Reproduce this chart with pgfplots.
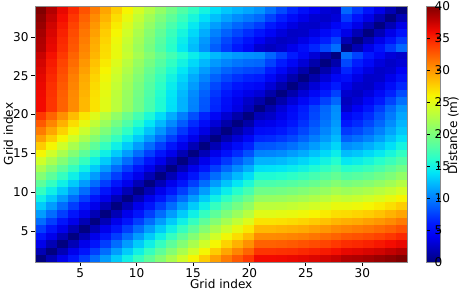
\documentclass[border=0pt]{standalone}
\usepackage{fontspec}
\setmainfont{DejaVu Sans}
\usepackage{pgfplots}
\pgfplotsset{compat=1.18}
\pgfplotsset{every axis/.append style={font=\fontsize{8.7}{10}\selectfont},
  /pgf/number format/assume math mode=true}
\begin{document}
\begin{tikzpicture}
\useasboundingbox (0,0) rectangle (331.2pt,209.52pt);
\begin{axis}[
 at={(25.2pt,20.9pt)}, anchor=south west,
 scale only axis, width=268.2pt, height=184.3pt,
 xmin=0.5,xmax=34.5,ymin=0.5,ymax=34.5, enlargelimits=false,
 axis on top,
 xtick={4.6212,9.7727,14.9242,20.0758,25.2273,30.3788}, xticklabels={5,10,15,20,25,30},
 ytick={4.6212,9.7727,14.9242,20.0758,25.2273,30.3788}, yticklabels={5,10,15,20,25,30},
 tick align=outside, major tick length=3pt,
 xtick pos=left, ytick pos=left,
 tick style={black, line width=0.6pt},
 axis line style={black!45, line width=0.6pt},
 xticklabel style={inner sep=0pt, yshift=-1.5pt},
 yticklabel style={inner sep=0pt, xshift=-1.5pt},
 xlabel={Grid index}, ylabel={Grid index},
 every axis x label/.style={at={(axis description cs:0.5,0)}, anchor=north, inner sep=0pt, yshift=-12.2pt},
 every axis y label/.style={at={(axis description cs:-0.058,0.5)}, rotate=90, anchor=south, inner sep=0pt},
 colormap={mjet}{rgb(0cm)=(0,0,0.5) rgb(1cm)=(0,0,0.727) rgb(2cm)=(0,0,0.955) rgb(3cm)=(0,0.1,1) rgb(4cm)=(0,0.3,1) rgb(5cm)=(0,0.5,1) rgb(6cm)=(0,0.7,1) rgb(7cm)=(0,0.9,0.968) rgb(8cm)=(0.145,1,0.806) rgb(9cm)=(0.323,1,0.645) rgb(10cm)=(0.484,1,0.484) rgb(11cm)=(0.645,1,0.323) rgb(12cm)=(0.806,1,0.161) rgb(13cm)=(0.968,0.963,0) rgb(14cm)=(1,0.778,0) rgb(15cm)=(1,0.593,0) rgb(16cm)=(1,0.407,0) rgb(17cm)=(1,0.222,0) rgb(18cm)=(0.955,0.037,0) rgb(19cm)=(0.727,0,0) rgb(20cm)=(0.5,0,0)},
 point meta min=0, point meta max=40,
 colorbar,
 colorbar style={at={(parent axis.north east)}, anchor=north west, xshift=5.4pt,
   width=9.6pt, ytick={0,5,...,40}, tick align=inside, major tick length=2pt,
   tick style={black, line width=0.6pt}, axis line style={black!45, line width=0.6pt},
   yticklabel style={inner sep=0pt, anchor=west, xshift=-4.2pt}},
]
\addplot[matrix plot*, mesh/cols=34, point meta=explicit] table[x index=0, y index=1, meta index=2, row sep=\\] {
x y c\\
1 1 0\\ 2 1 1.85\\ 3 1 3.7\\ 4 1 5.55\\ 5 1 7.4\\ 6 1 9.25\\ 7 1 11.1\\ 8 1 12.95\\ 9 1 14.8\\ 10 1 16.65\\ 11 1 18.5\\ 12 1 20.35\\ 13 1 22.2\\ 14 1 24.05\\ 15 1 25.9\\ 16 1 27.75\\ 17 1 29.6\\ 18 1 31.2\\ 19 1 32.6\\ 20 1 34\\ 21 1 36\\ 22 1 36\\ 23 1 36.1\\ 24 1 36.3\\ 25 1 36.5\\ 26 1 36.8\\ 27 1 37.1\\ 28 1 37.5\\ 29 1 38.2\\ 30 1 38.4\\ 31 1 38.7\\ 32 1 39.1\\ 33 1 39.5\\ 34 1 40\\
1 2 1.85\\ 2 2 0\\ 3 2 1.85\\ 4 2 3.7\\ 5 2 5.55\\ 6 2 7.4\\ 7 2 9.25\\ 8 2 11.1\\ 9 2 12.95\\ 10 2 14.8\\ 11 2 16.65\\ 12 2 18.5\\ 13 2 20.35\\ 14 2 22.2\\ 15 2 24.05\\ 16 2 25.9\\ 17 2 27.75\\ 18 2 29.35\\ 19 2 30.75\\ 20 2 32.15\\ 21 2 34.2\\ 22 2 34.2\\ 23 2 34.3\\ 24 2 34.4\\ 25 2 34.7\\ 26 2 35\\ 27 2 35.3\\ 28 2 35.7\\ 29 2 36.4\\ 30 2 36.6\\ 31 2 36.9\\ 32 2 37.2\\ 33 2 37.7\\ 34 2 38.2\\
1 3 3.7\\ 2 3 1.85\\ 3 3 0\\ 4 3 1.85\\ 5 3 3.7\\ 6 3 5.55\\ 7 3 7.4\\ 8 3 9.25\\ 9 3 11.1\\ 10 3 12.95\\ 11 3 14.8\\ 12 3 16.65\\ 13 3 18.5\\ 14 3 20.35\\ 15 3 22.2\\ 16 3 24.05\\ 17 3 25.9\\ 18 3 27.5\\ 19 3 28.9\\ 20 3 30.3\\ 21 3 32.3\\ 22 3 32.3\\ 23 3 32.4\\ 24 3 32.6\\ 25 3 32.9\\ 26 3 33.2\\ 27 3 33.5\\ 28 3 34\\ 29 3 34.5\\ 30 3 34.7\\ 31 3 35\\ 32 3 35.4\\ 33 3 35.9\\ 34 3 36.4\\
1 4 5.55\\ 2 4 3.7\\ 3 4 1.85\\ 4 4 0\\ 5 4 1.85\\ 6 4 3.7\\ 7 4 5.55\\ 8 4 7.4\\ 9 4 9.25\\ 10 4 11.1\\ 11 4 12.95\\ 12 4 14.8\\ 13 4 16.65\\ 14 4 18.5\\ 15 4 20.35\\ 16 4 22.2\\ 17 4 24.05\\ 18 4 25.65\\ 19 4 27.05\\ 20 4 28.45\\ 21 4 30.5\\ 22 4 30.5\\ 23 4 30.6\\ 24 4 30.8\\ 25 4 31\\ 26 4 31.4\\ 27 4 31.8\\ 28 4 32.2\\ 29 4 32.7\\ 30 4 32.9\\ 31 4 33.2\\ 32 4 33.6\\ 33 4 34.1\\ 34 4 34.7\\
1 5 7.4\\ 2 5 5.55\\ 3 5 3.7\\ 4 5 1.85\\ 5 5 0\\ 6 5 1.85\\ 7 5 3.7\\ 8 5 5.55\\ 9 5 7.4\\ 10 5 9.25\\ 11 5 11.1\\ 12 5 12.95\\ 13 5 14.8\\ 14 5 16.65\\ 15 5 18.5\\ 16 5 20.35\\ 17 5 22.2\\ 18 5 23.8\\ 19 5 25.2\\ 20 5 26.6\\ 21 5 28.6\\ 22 5 28.6\\ 23 5 28.8\\ 24 5 29\\ 25 5 29.2\\ 26 5 29.6\\ 27 5 30\\ 28 5 30.5\\ 29 5 30.8\\ 30 5 31.1\\ 31 5 31.4\\ 32 5 31.8\\ 33 5 32.3\\ 34 5 32.9\\
1 6 9.25\\ 2 6 7.4\\ 3 6 5.55\\ 4 6 3.7\\ 5 6 1.85\\ 6 6 0\\ 7 6 1.85\\ 8 6 3.7\\ 9 6 5.55\\ 10 6 7.4\\ 11 6 9.25\\ 12 6 11.1\\ 13 6 12.95\\ 14 6 14.8\\ 15 6 16.65\\ 16 6 18.5\\ 17 6 20.35\\ 18 6 21.95\\ 19 6 23.35\\ 20 6 24.75\\ 21 6 26.8\\ 22 6 26.8\\ 23 6 26.9\\ 24 6 27.1\\ 25 6 27.4\\ 26 6 27.8\\ 27 6 28.2\\ 28 6 28.7\\ 29 6 29\\ 30 6 29.2\\ 31 6 29.6\\ 32 6 30\\ 33 6 30.5\\ 34 6 31.2\\
1 7 11.1\\ 2 7 9.25\\ 3 7 7.4\\ 4 7 5.55\\ 5 7 3.7\\ 6 7 1.85\\ 7 7 0\\ 8 7 1.85\\ 9 7 3.7\\ 10 7 5.55\\ 11 7 7.4\\ 12 7 9.25\\ 13 7 11.1\\ 14 7 12.95\\ 15 7 14.8\\ 16 7 16.65\\ 17 7 18.5\\ 18 7 20.1\\ 19 7 21.5\\ 20 7 22.9\\ 21 7 24.9\\ 22 7 24.9\\ 23 7 25.1\\ 24 7 25.3\\ 25 7 25.6\\ 26 7 26\\ 27 7 26.5\\ 28 7 27\\ 29 7 27.1\\ 30 7 27.4\\ 31 7 27.7\\ 32 7 28.2\\ 33 7 28.8\\ 34 7 29.4\\
1 8 12.95\\ 2 8 11.1\\ 3 8 9.25\\ 4 8 7.4\\ 5 8 5.55\\ 6 8 3.7\\ 7 8 1.85\\ 8 8 0\\ 9 8 1.85\\ 10 8 3.7\\ 11 8 5.55\\ 12 8 7.4\\ 13 8 9.25\\ 14 8 11.1\\ 15 8 12.95\\ 16 8 14.8\\ 17 8 16.65\\ 18 8 18.25\\ 19 8 19.65\\ 20 8 21.05\\ 21 8 23.1\\ 22 8 23.1\\ 23 8 23.2\\ 24 8 23.5\\ 25 8 23.8\\ 26 8 24.2\\ 27 8 24.7\\ 28 8 25.3\\ 29 8 25.3\\ 30 8 25.5\\ 31 8 25.9\\ 32 8 26.4\\ 33 8 27\\ 34 8 27.7\\
1 9 14.8\\ 2 9 12.95\\ 3 9 11.1\\ 4 9 9.25\\ 5 9 7.4\\ 6 9 5.55\\ 7 9 3.7\\ 8 9 1.85\\ 9 9 0\\ 10 9 1.85\\ 11 9 3.7\\ 12 9 5.55\\ 13 9 7.4\\ 14 9 9.25\\ 15 9 11.1\\ 16 9 12.95\\ 17 9 14.8\\ 18 9 16.4\\ 19 9 17.8\\ 20 9 19.2\\ 21 9 21.2\\ 22 9 21.3\\ 23 9 21.4\\ 24 9 21.7\\ 25 9 22\\ 26 9 22.5\\ 27 9 23\\ 28 9 23.7\\ 29 9 23.4\\ 30 9 23.7\\ 31 9 24.1\\ 32 9 24.6\\ 33 9 25.3\\ 34 9 26\\
1 10 16.65\\ 2 10 14.8\\ 3 10 12.95\\ 4 10 11.1\\ 5 10 9.25\\ 6 10 7.4\\ 7 10 5.55\\ 8 10 3.7\\ 9 10 1.85\\ 10 10 0\\ 11 10 1.85\\ 12 10 3.7\\ 13 10 5.55\\ 14 10 7.4\\ 15 10 9.25\\ 16 10 11.1\\ 17 10 12.95\\ 18 10 14.55\\ 19 10 15.95\\ 20 10 17.35\\ 21 10 19.4\\ 22 10 19.4\\ 23 10 19.6\\ 24 10 19.9\\ 25 10 20.3\\ 26 10 20.8\\ 27 10 21.3\\ 28 10 22\\ 29 10 21.6\\ 30 10 21.9\\ 31 10 22.3\\ 32 10 22.9\\ 33 10 23.5\\ 34 10 24.3\\
1 11 18.5\\ 2 11 16.65\\ 3 11 14.8\\ 4 11 12.95\\ 5 11 11.1\\ 6 11 9.25\\ 7 11 7.4\\ 8 11 5.55\\ 9 11 3.7\\ 10 11 1.85\\ 11 11 0\\ 12 11 1.85\\ 13 11 3.7\\ 14 11 5.55\\ 15 11 7.4\\ 16 11 9.25\\ 17 11 11.1\\ 18 11 12.7\\ 19 11 14.1\\ 20 11 15.5\\ 21 11 17.5\\ 22 11 17.6\\ 23 11 17.8\\ 24 11 18.1\\ 25 11 18.5\\ 26 11 19\\ 27 11 19.7\\ 28 11 20.4\\ 29 11 19.8\\ 30 11 20.1\\ 31 11 20.5\\ 32 11 21.1\\ 33 11 21.8\\ 34 11 22.7\\
1 12 20.35\\ 2 12 18.5\\ 3 12 16.65\\ 4 12 14.8\\ 5 12 12.95\\ 6 12 11.1\\ 7 12 9.25\\ 8 12 7.4\\ 9 12 5.55\\ 10 12 3.7\\ 11 12 1.85\\ 12 12 0\\ 13 12 1.85\\ 14 12 3.7\\ 15 12 5.55\\ 16 12 7.4\\ 17 12 9.25\\ 18 12 10.85\\ 19 12 12.25\\ 20 12 13.65\\ 21 12 15.7\\ 22 12 15.7\\ 23 12 15.9\\ 24 12 16.3\\ 25 12 16.8\\ 26 12 17.4\\ 27 12 18.1\\ 28 12 18.8\\ 29 12 17.9\\ 30 12 18.2\\ 31 12 18.7\\ 32 12 19.4\\ 33 12 20.1\\ 34 12 21.1\\
1 13 22.2\\ 2 13 20.35\\ 3 13 18.5\\ 4 13 16.65\\ 5 13 14.8\\ 6 13 12.95\\ 7 13 11.1\\ 8 13 9.25\\ 9 13 7.4\\ 10 13 5.55\\ 11 13 3.7\\ 12 13 1.85\\ 13 13 0\\ 14 13 1.85\\ 15 13 3.7\\ 16 13 5.55\\ 17 13 7.4\\ 18 13 9\\ 19 13 10.4\\ 20 13 11.8\\ 21 13 13.8\\ 22 13 13.9\\ 23 13 14.1\\ 24 13 14.5\\ 25 13 15\\ 26 13 15.7\\ 27 13 16.5\\ 28 13 17.3\\ 29 13 16.1\\ 30 13 16.4\\ 31 13 16.9\\ 32 13 17.6\\ 33 13 18.5\\ 34 13 19.5\\
1 14 24.05\\ 2 14 22.2\\ 3 14 20.35\\ 4 14 18.5\\ 5 14 16.65\\ 6 14 14.8\\ 7 14 12.95\\ 8 14 11.1\\ 9 14 9.25\\ 10 14 7.4\\ 11 14 5.55\\ 12 14 3.7\\ 13 14 1.85\\ 14 14 0\\ 15 14 1.85\\ 16 14 3.7\\ 17 14 5.55\\ 18 14 7.15\\ 19 14 8.55\\ 20 14 9.95\\ 21 14 12\\ 22 14 12\\ 23 14 12.3\\ 24 14 12.8\\ 25 14 13.4\\ 26 14 14.1\\ 27 14 15\\ 28 14 15.9\\ 29 14 14.2\\ 30 14 14.6\\ 31 14 15.2\\ 32 14 16\\ 33 14 16.9\\ 34 14 17.9\\
1 15 25.9\\ 2 15 24.05\\ 3 15 22.2\\ 4 15 20.35\\ 5 15 18.5\\ 6 15 16.65\\ 7 15 14.8\\ 8 15 12.95\\ 9 15 11.1\\ 10 15 9.25\\ 11 15 7.4\\ 12 15 5.55\\ 13 15 3.7\\ 14 15 1.85\\ 15 15 0\\ 16 15 1.85\\ 17 15 3.7\\ 18 15 5.3\\ 19 15 6.7\\ 20 15 8.1\\ 21 15 10.1\\ 22 15 10.2\\ 23 15 10.5\\ 24 15 11.1\\ 25 15 11.7\\ 26 15 12.6\\ 27 15 13.5\\ 28 15 14.6\\ 29 15 12.4\\ 30 15 12.8\\ 31 15 13.5\\ 32 15 14.3\\ 33 15 15.3\\ 34 15 16.5\\
1 16 27.75\\ 2 16 25.9\\ 3 16 24.05\\ 4 16 22.2\\ 5 16 20.35\\ 6 16 18.5\\ 7 16 16.65\\ 8 16 14.8\\ 9 16 12.95\\ 10 16 11.1\\ 11 16 9.25\\ 12 16 7.4\\ 13 16 5.55\\ 14 16 3.7\\ 15 16 1.85\\ 16 16 0\\ 17 16 1.85\\ 18 16 3.45\\ 19 16 4.85\\ 20 16 6.25\\ 21 16 8.3\\ 22 16 8.4\\ 23 16 8.8\\ 24 16 9.4\\ 25 16 10.2\\ 26 16 11.1\\ 27 16 12.2\\ 28 16 13.4\\ 29 16 10.6\\ 30 16 11\\ 31 16 11.8\\ 32 16 12.7\\ 33 16 13.8\\ 34 16 15.1\\
1 17 29.6\\ 2 17 27.75\\ 3 17 25.9\\ 4 17 24.05\\ 5 17 22.2\\ 6 17 20.35\\ 7 17 18.5\\ 8 17 16.65\\ 9 17 14.8\\ 10 17 12.95\\ 11 17 11.1\\ 12 17 9.25\\ 13 17 7.4\\ 14 17 5.55\\ 15 17 3.7\\ 16 17 1.85\\ 17 17 0\\ 18 17 1.6\\ 19 17 3\\ 20 17 4.4\\ 21 17 6.4\\ 22 17 6.6\\ 23 17 7.1\\ 24 17 7.8\\ 25 17 8.8\\ 26 17 9.9\\ 27 17 11\\ 28 17 12.3\\ 29 17 8.7\\ 30 17 9.3\\ 31 17 10.1\\ 32 17 11.2\\ 33 17 12.5\\ 34 17 13.8\\
1 18 31.2\\ 2 18 29.35\\ 3 18 27.5\\ 4 18 25.65\\ 5 18 23.8\\ 6 18 21.95\\ 7 18 20.1\\ 8 18 18.25\\ 9 18 16.4\\ 10 18 14.55\\ 11 18 12.7\\ 12 18 10.85\\ 13 18 9\\ 14 18 7.15\\ 15 18 5.3\\ 16 18 3.45\\ 17 18 1.6\\ 18 18 0\\ 19 18 1.4\\ 20 18 2.8\\ 21 18 4.8\\ 22 18 5\\ 23 18 5.7\\ 24 18 6.6\\ 25 18 7.7\\ 26 18 8.9\\ 27 18 10.2\\ 28 18 11.5\\ 29 18 7.2\\ 30 18 7.8\\ 31 18 8.8\\ 32 18 10\\ 33 18 11.4\\ 34 18 12.8\\
1 19 32.6\\ 2 19 30.75\\ 3 19 28.9\\ 4 19 27.05\\ 5 19 25.2\\ 6 19 23.35\\ 7 19 21.5\\ 8 19 19.65\\ 9 19 17.8\\ 10 19 15.95\\ 11 19 14.1\\ 12 19 12.25\\ 13 19 10.4\\ 14 19 8.55\\ 15 19 6.7\\ 16 19 4.85\\ 17 19 3\\ 18 19 1.4\\ 19 19 0\\ 20 19 1.4\\ 21 19 3.4\\ 22 19 3.7\\ 23 19 4.5\\ 24 19 5.6\\ 25 19 6.9\\ 26 19 8.2\\ 27 19 9.6\\ 28 19 11\\ 29 19 5.8\\ 30 19 6.6\\ 31 19 7.7\\ 32 19 9\\ 33 19 10.5\\ 34 19 12.1\\
1 20 34\\ 2 20 32.15\\ 3 20 30.3\\ 4 20 28.45\\ 5 20 26.6\\ 6 20 24.75\\ 7 20 22.9\\ 8 20 21.05\\ 9 20 19.2\\ 10 20 17.35\\ 11 20 15.5\\ 12 20 13.65\\ 13 20 11.8\\ 14 20 9.95\\ 15 20 8.1\\ 16 20 6.25\\ 17 20 4.4\\ 18 20 2.8\\ 19 20 1.4\\ 20 20 0\\ 21 20 2\\ 22 20 2.5\\ 23 20 3.6\\ 24 20 4.9\\ 25 20 6.3\\ 26 20 7.8\\ 27 20 9.2\\ 28 20 10.7\\ 29 20 4.5\\ 30 20 5.4\\ 31 20 6.7\\ 32 20 8.2\\ 33 20 9.8\\ 34 20 11.5\\
1 21 36\\ 2 21 34.2\\ 3 21 32.3\\ 4 21 30.5\\ 5 21 28.6\\ 6 21 26.8\\ 7 21 24.9\\ 8 21 23.1\\ 9 21 21.2\\ 10 21 19.4\\ 11 21 17.5\\ 12 21 15.7\\ 13 21 13.8\\ 14 21 12\\ 15 21 10.1\\ 16 21 8.3\\ 17 21 6.4\\ 18 21 4.8\\ 19 21 3.4\\ 20 21 2\\ 21 21 0\\ 22 21 1.5\\ 23 21 3\\ 24 21 4.5\\ 25 21 6\\ 26 21 7.5\\ 27 21 9\\ 28 21 10.5\\ 29 21 2.7\\ 30 21 4\\ 31 21 5.6\\ 32 21 7.3\\ 33 21 9.1\\ 34 21 10.8\\
1 22 36\\ 2 22 34.2\\ 3 22 32.3\\ 4 22 30.5\\ 5 22 28.6\\ 6 22 26.8\\ 7 22 24.9\\ 8 22 23.1\\ 9 22 21.3\\ 10 22 19.4\\ 11 22 17.6\\ 12 22 15.7\\ 13 22 13.9\\ 14 22 12\\ 15 22 10.2\\ 16 22 8.4\\ 17 22 6.6\\ 18 22 5\\ 19 22 3.7\\ 20 22 2.5\\ 21 22 1.5\\ 22 22 0\\ 23 22 1.5\\ 24 22 3\\ 25 22 4.5\\ 26 22 6\\ 27 22 7.5\\ 28 22 9\\ 29 22 2.2\\ 30 22 2.9\\ 31 22 4.3\\ 32 22 5.9\\ 33 22 7.6\\ 34 22 9.4\\
1 23 36.1\\ 2 23 34.3\\ 3 23 32.4\\ 4 23 30.6\\ 5 23 28.8\\ 6 23 26.9\\ 7 23 25.1\\ 8 23 23.2\\ 9 23 21.4\\ 10 23 19.6\\ 11 23 17.8\\ 12 23 15.9\\ 13 23 14.1\\ 14 23 12.3\\ 15 23 10.5\\ 16 23 8.8\\ 17 23 7.1\\ 18 23 5.7\\ 19 23 4.5\\ 20 23 3.6\\ 21 23 3\\ 22 23 1.5\\ 23 23 0\\ 24 23 1.5\\ 25 23 3\\ 26 23 4.5\\ 27 23 6\\ 28 23 7.5\\ 29 23 2.7\\ 30 23 2.3\\ 31 23 3.2\\ 32 23 4.6\\ 33 23 6.2\\ 34 23 7.9\\
1 24 36.3\\ 2 24 34.4\\ 3 24 32.6\\ 4 24 30.8\\ 5 24 29\\ 6 24 27.1\\ 7 24 25.3\\ 8 24 23.5\\ 9 24 21.7\\ 10 24 19.9\\ 11 24 18.1\\ 12 24 16.3\\ 13 24 14.5\\ 14 24 12.8\\ 15 24 11.1\\ 16 24 9.4\\ 17 24 7.8\\ 18 24 6.6\\ 19 24 5.6\\ 20 24 4.9\\ 21 24 4.5\\ 22 24 3\\ 23 24 1.5\\ 24 24 0\\ 25 24 1.5\\ 26 24 3\\ 27 24 4.5\\ 28 24 6\\ 29 24 3.7\\ 30 24 2.6\\ 31 24 2.4\\ 32 24 3.4\\ 33 24 4.9\\ 34 24 6.5\\
1 25 36.5\\ 2 25 34.7\\ 3 25 32.9\\ 4 25 31\\ 5 25 29.2\\ 6 25 27.4\\ 7 25 25.6\\ 8 25 23.8\\ 9 25 22\\ 10 25 20.3\\ 11 25 18.5\\ 12 25 16.8\\ 13 25 15\\ 14 25 13.4\\ 15 25 11.7\\ 16 25 10.2\\ 17 25 8.8\\ 18 25 7.7\\ 19 25 6.9\\ 20 25 6.3\\ 21 25 6\\ 22 25 4.5\\ 23 25 3\\ 24 25 1.5\\ 25 25 0\\ 26 25 1.5\\ 27 25 3\\ 28 25 4.5\\ 29 25 5\\ 30 25 3.5\\ 31 25 2.5\\ 32 25 2.6\\ 33 25 3.7\\ 34 25 5.2\\
1 26 36.8\\ 2 26 35\\ 3 26 33.2\\ 4 26 31.4\\ 5 26 29.6\\ 6 26 27.8\\ 7 26 26\\ 8 26 24.2\\ 9 26 22.5\\ 10 26 20.8\\ 11 26 19\\ 12 26 17.4\\ 13 26 15.7\\ 14 26 14.1\\ 15 26 12.6\\ 16 26 11.1\\ 17 26 9.9\\ 18 26 8.9\\ 19 26 8.2\\ 20 26 7.8\\ 21 26 7.5\\ 22 26 6\\ 23 26 4.5\\ 24 26 3\\ 25 26 1.5\\ 26 26 0\\ 27 26 1.5\\ 28 26 3\\ 29 26 6.4\\ 30 26 4.8\\ 31 26 3.4\\ 32 26 2.5\\ 33 26 2.8\\ 34 26 4\\
1 27 37.1\\ 2 27 35.3\\ 3 27 33.5\\ 4 27 31.8\\ 5 27 30\\ 6 27 28.2\\ 7 27 26.5\\ 8 27 24.7\\ 9 27 23\\ 10 27 21.3\\ 11 27 19.7\\ 12 27 18.1\\ 13 27 16.5\\ 14 27 15\\ 15 27 13.5\\ 16 27 12.2\\ 17 27 11\\ 18 27 10.2\\ 19 27 9.6\\ 20 27 9.2\\ 21 27 9\\ 22 27 7.5\\ 23 27 6\\ 24 27 4.5\\ 25 27 3\\ 26 27 1.5\\ 27 27 0\\ 28 27 1.5\\ 29 27 7.8\\ 30 27 6.1\\ 31 27 4.6\\ 32 27 3.2\\ 33 27 2.5\\ 34 27 3\\
1 28 37.5\\ 2 28 35.7\\ 3 28 34\\ 4 28 32.2\\ 5 28 30.5\\ 6 28 28.7\\ 7 28 27\\ 8 28 25.3\\ 9 28 23.7\\ 10 28 22\\ 11 28 20.4\\ 12 28 18.8\\ 13 28 17.3\\ 14 28 15.9\\ 15 28 14.6\\ 16 28 13.4\\ 17 28 12.3\\ 18 28 11.5\\ 19 28 11\\ 20 28 10.7\\ 21 28 10.5\\ 22 28 9\\ 23 28 7.5\\ 24 28 6\\ 25 28 4.5\\ 26 28 3\\ 27 28 1.5\\ 28 28 0\\ 29 28 9.3\\ 30 28 7.6\\ 31 28 5.9\\ 32 28 4.4\\ 33 28 3.1\\ 34 28 2.6\\
1 29 38.2\\ 2 29 36.4\\ 3 29 34.5\\ 4 29 32.7\\ 5 29 30.8\\ 6 29 29\\ 7 29 27.1\\ 8 29 25.3\\ 9 29 23.4\\ 10 29 21.6\\ 11 29 19.8\\ 12 29 17.9\\ 13 29 16.1\\ 14 29 14.2\\ 15 29 12.4\\ 16 29 10.6\\ 17 29 8.7\\ 18 29 7.2\\ 19 29 5.8\\ 20 29 4.5\\ 21 29 2.7\\ 22 29 2.2\\ 23 29 2.7\\ 24 29 3.7\\ 25 29 5\\ 26 29 6.4\\ 27 29 7.8\\ 28 29 9.3\\ 29 29 0\\ 30 29 1.8\\ 31 29 3.6\\ 32 29 5.4\\ 33 29 7.2\\ 34 29 9\\
1 30 38.4\\ 2 30 36.6\\ 3 30 34.7\\ 4 30 32.9\\ 5 30 31.1\\ 6 30 29.2\\ 7 30 27.4\\ 8 30 25.5\\ 9 30 23.7\\ 10 30 21.9\\ 11 30 20.1\\ 12 30 18.2\\ 13 30 16.4\\ 14 30 14.6\\ 15 30 12.8\\ 16 30 11\\ 17 30 9.3\\ 18 30 7.8\\ 19 30 6.6\\ 20 30 5.4\\ 21 30 4\\ 22 30 2.9\\ 23 30 2.3\\ 24 30 2.6\\ 25 30 3.5\\ 26 30 4.8\\ 27 30 6.1\\ 28 30 7.6\\ 29 30 1.8\\ 30 30 0\\ 31 30 1.8\\ 32 30 3.6\\ 33 30 5.4\\ 34 30 7.2\\
1 31 38.7\\ 2 31 36.9\\ 3 31 35\\ 4 31 33.2\\ 5 31 31.4\\ 6 31 29.6\\ 7 31 27.7\\ 8 31 25.9\\ 9 31 24.1\\ 10 31 22.3\\ 11 31 20.5\\ 12 31 18.7\\ 13 31 16.9\\ 14 31 15.2\\ 15 31 13.5\\ 16 31 11.8\\ 17 31 10.1\\ 18 31 8.8\\ 19 31 7.7\\ 20 31 6.7\\ 21 31 5.6\\ 22 31 4.3\\ 23 31 3.2\\ 24 31 2.4\\ 25 31 2.5\\ 26 31 3.4\\ 27 31 4.6\\ 28 31 5.9\\ 29 31 3.6\\ 30 31 1.8\\ 31 31 0\\ 32 31 1.8\\ 33 31 3.6\\ 34 31 5.4\\
1 32 39.1\\ 2 32 37.2\\ 3 32 35.4\\ 4 32 33.6\\ 5 32 31.8\\ 6 32 30\\ 7 32 28.2\\ 8 32 26.4\\ 9 32 24.6\\ 10 32 22.9\\ 11 32 21.1\\ 12 32 19.4\\ 13 32 17.6\\ 14 32 16\\ 15 32 14.3\\ 16 32 12.7\\ 17 32 11.2\\ 18 32 10\\ 19 32 9\\ 20 32 8.2\\ 21 32 7.3\\ 22 32 5.9\\ 23 32 4.6\\ 24 32 3.4\\ 25 32 2.6\\ 26 32 2.5\\ 27 32 3.2\\ 28 32 4.4\\ 29 32 5.4\\ 30 32 3.6\\ 31 32 1.8\\ 32 32 0\\ 33 32 1.8\\ 34 32 3.6\\
1 33 39.5\\ 2 33 37.7\\ 3 33 35.9\\ 4 33 34.1\\ 5 33 32.3\\ 6 33 30.5\\ 7 33 28.8\\ 8 33 27\\ 9 33 25.3\\ 10 33 23.5\\ 11 33 21.8\\ 12 33 20.1\\ 13 33 18.5\\ 14 33 16.9\\ 15 33 15.3\\ 16 33 13.8\\ 17 33 12.5\\ 18 33 11.4\\ 19 33 10.5\\ 20 33 9.8\\ 21 33 9.1\\ 22 33 7.6\\ 23 33 6.2\\ 24 33 4.9\\ 25 33 3.7\\ 26 33 2.8\\ 27 33 2.5\\ 28 33 3.1\\ 29 33 7.2\\ 30 33 5.4\\ 31 33 3.6\\ 32 33 1.8\\ 33 33 0\\ 34 33 1.8\\
1 34 40\\ 2 34 38.2\\ 3 34 36.4\\ 4 34 34.7\\ 5 34 32.9\\ 6 34 31.2\\ 7 34 29.4\\ 8 34 27.7\\ 9 34 26\\ 10 34 24.3\\ 11 34 22.7\\ 12 34 21.1\\ 13 34 19.5\\ 14 34 17.9\\ 15 34 16.5\\ 16 34 15.1\\ 17 34 13.8\\ 18 34 12.8\\ 19 34 12.1\\ 20 34 11.5\\ 21 34 10.8\\ 22 34 9.4\\ 23 34 7.9\\ 24 34 6.5\\ 25 34 5.2\\ 26 34 4\\ 27 34 3\\ 28 34 2.6\\ 29 34 9\\ 30 34 7.2\\ 31 34 5.4\\ 32 34 3.6\\ 33 34 1.8\\ 34 34 0\\
};
\end{axis}
\node[rotate=90, anchor=north, inner sep=0pt, font=\fontsize{8.7}{10}\selectfont] at (322.4pt,112pt) {Distance (m)};
\end{tikzpicture}
\end{document}
